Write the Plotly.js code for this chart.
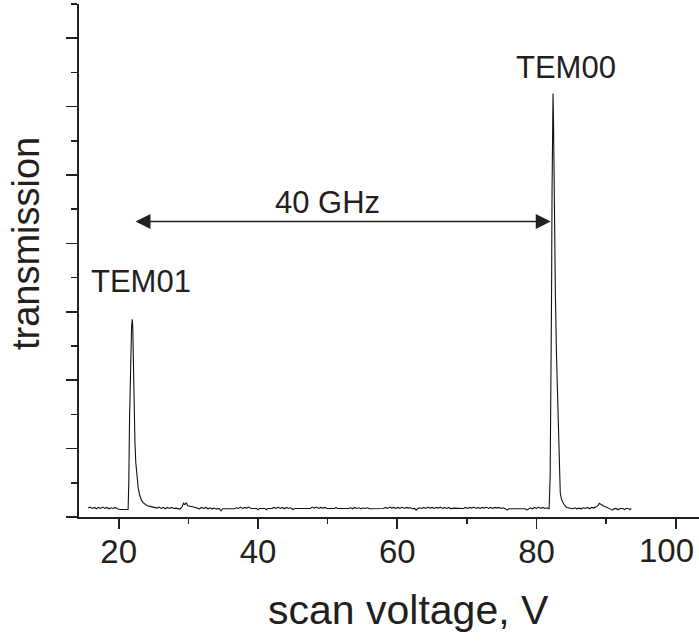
<!DOCTYPE html>
<html>
<head>
<meta charset="utf-8">
<script src="https://cdn.plot.ly/plotly-3.0.1.min.js"></script>
<style>html,body{margin:0;padding:0;background:#fff;}#chart{width:699px;height:641px;}</style>
</head>
<body>
<div id="chart"></div>
<script>
// scan voltage (V)
var voltage = [
15.6,15.9,16.2,16.5,16.8,17.1,17.4,17.7,18.0,18.3,18.6,18.9,19.2,19.5,19.8,20.2,21.35,
21.45,21.56,21.7,21.85,21.94,22.02,22.1,22.17,22.24,22.33,22.45,22.6,22.8,23.0,23.25,23.5,23.8,24.1,24.5,24.9,25.2,
25.5,25.8,26.1,26.4,26.7,27.0,27.3,27.6,27.9,28.2,28.8,
29.1,29.3,29.5,29.7,29.9,30.2,30.6,31.0,
31.3,31.6,31.9,32.2,32.5,32.8,33.1,33.4,33.7,34.0,34.4,34.7,34.9,36.6,
36.9,37.2,37.5,37.8,38.1,38.4,38.7,39.0,39.8,40.0,40.2,41.0,41.2,41.4,42.0,
42.3,42.6,42.9,43.2,43.5,43.8,44.1,44.4,44.7,45.0,45.3,47.5,
47.8,48.1,48.4,48.7,49.0,49.3,49.6,49.9,51.0,51.2,51.4,53.0,
53.3,53.6,53.9,54.2,54.5,54.8,55.1,55.4,55.7,56.0,58.0,
58.3,58.6,58.9,59.2,59.5,59.8,60.1,60.4,60.7,61.0,61.3,61.6,61.9,62.2,62.5,62.7,62.9,
63.2,63.5,63.8,64.1,64.4,64.7,65.0,65.3,65.6,65.9,66.2,66.5,66.8,67.1,67.4,67.7,68.0,69.5,
69.8,70.1,70.4,70.7,71.0,71.3,71.6,71.9,72.2,72.5,72.8,73.1,73.4,73.7,74.0,74.3,74.6,74.9,75.2,75.5,75.8,76.0,
78.4,78.6,78.8,79.1,79.4,79.7,80.0,80.3,80.6,80.9,81.2,81.5,81.7,
81.8,81.95,82.08,82.15,82.22,82.3,82.36,82.43,82.5,82.6,82.7,82.85,83.0,83.1,83.2,83.3,83.4,83.6,83.9,
84.3,84.6,84.9,85.2,85.5,85.8,86.1,86.4,86.7,87.0,87.3,87.6,87.9,88.2,88.5,88.8,89.0,89.2,89.4,89.7,
90.0,90.3,90.6,90.9,91.1,91.4,91.7,92.0,92.4,92.6,92.8,93.2,93.4,93.6
];
// transmission (arb. units)
var transmission = [
0.26,0.29,0.25,0.28,0.24,0.28,0.25,0.29,0.25,0.28,0.24,0.27,0.25,0.28,0.24,0.22,0.22,
1.0,2.9,4.6,5.55,5.78,5.55,4.7,3.7,2.9,2.2,1.6,1.17,0.85,0.65,0.5,0.42,0.36,0.33,0.31,0.29,0.28,
0.26,0.29,0.25,0.28,0.24,0.28,0.25,0.28,0.25,0.26,0.23,
0.30,0.40,0.36,0.42,0.33,0.31,0.30,0.28,
0.27,0.24,0.28,0.25,0.28,0.24,0.27,0.24,0.26,0.23,0.25,0.18,0.24,0.24,
0.27,0.25,0.29,0.25,0.28,0.26,0.29,0.25,0.25,0.21,0.25,0.25,0.21,0.25,0.25,
0.28,0.25,0.29,0.25,0.28,0.24,0.28,0.25,0.27,0.22,0.25,0.25,
0.29,0.26,0.29,0.25,0.28,0.26,0.28,0.25,0.25,0.28,0.25,0.25,
0.27,0.24,0.28,0.25,0.27,0.24,0.27,0.25,0.27,0.24,0.25,
0.28,0.25,0.29,0.26,0.28,0.25,0.28,0.25,0.29,0.25,0.28,0.26,0.27,0.24,0.25,0.20,0.24,
0.27,0.25,0.28,0.25,0.29,0.26,0.28,0.25,0.28,0.26,0.29,0.25,0.28,0.25,0.28,0.24,0.26,0.25,
0.28,0.25,0.28,0.26,0.29,0.25,0.28,0.25,0.28,0.26,0.29,0.25,0.28,0.25,0.28,0.26,0.28,0.25,0.27,0.24,0.20,0.24,
0.24,0.20,0.24,0.27,0.24,0.28,0.25,0.29,0.25,0.28,0.25,0.27,0.24,
0.24,1.2,3.6,6.5,9.5,11.8,12.38,11.6,9.5,8.0,6.5,4.8,3.6,2.5,1.7,1.1,0.7,0.5,0.38,
0.28,0.27,0.26,0.24,0.27,0.24,0.26,0.24,0.27,0.25,0.28,0.24,0.28,0.26,0.29,0.33,0.40,0.37,0.35,0.31,
0.29,0.27,0.23,0.20,0.24,0.25,0.21,0.25,0.25,0.21,0.25,0.25,0.21,0.25
];
// x ticks: the last label ("100") is drawn as a right-aligned label so it stays inside the figure
var xTickVals = [20, 40, 60, 80, 100];
var xTickText = ["20", "40", "60", "80", ""];
var lastTickLabel = "100";
var lastTickLabelRightX = 102.74;
// peak labels
var peakLabels = ["TEM01", "TEM00"];
var peakLabelX = [23.2, 84.23];
var peakLabelY = [6.89, 13.14];
// frequency-spacing arrow
var spacingText = "40 GHz";
var arrowFromX = 22.2, arrowToX = 82.03, arrowY = 8.64;
var spacingLabelX = 50.05, spacingLabelY = 9.21;

var ink = "#231f20";
var font = "Liberation Sans, Arial, sans-serif";

var trace = {
  x: voltage, y: transmission, type: "scatter", mode: "lines",
  line: {color: "#111", width: 1.1}, hoverinfo: "skip", showlegend: false
};

var annotations = [];
for (var i = 0; i < peakLabels.length; i++) {
  annotations.push({x: peakLabelX[i], y: peakLabelY[i], xref: "x", yref: "y",
    text: peakLabels[i], showarrow: false, xanchor: "center", yanchor: "middle",
    font: {family: font, size: 31, color: ink}});
}
annotations.push({x: spacingLabelX, y: spacingLabelY, xref: "x", yref: "y",
  text: spacingText, showarrow: false, xanchor: "center", yanchor: "middle",
  font: {family: font, size: 31, color: ink}});
annotations.push({x: arrowToX, y: arrowY, ax: arrowFromX, ay: arrowY,
  xref: "x", yref: "y", axref: "x", ayref: "y", text: "", showarrow: true,
  arrowhead: 2, startarrowhead: 2, arrowside: "end+start",
  arrowsize: 2.3, startarrowsize: 2.3, arrowwidth: 1.3, arrowcolor: ink,
  standoff: 0, startstandoff: 0});
annotations.push({x: lastTickLabelRightX, y: -0.0653, xref: "x", yref: "paper",
  text: lastTickLabel, showarrow: false, xanchor: "right", yanchor: "middle", borderpad: 0,
  font: {family: font, size: 33, color: ink}});
// axis titles
annotations.push({x: 0.5315, y: -0.181, xref: "paper", yref: "paper",
  text: "scan voltage, V", showarrow: false, xanchor: "center", yanchor: "middle",
  font: {family: font, size: 41, color: ink}});
annotations.push({x: -0.0855, y: 0.534, xref: "paper", yref: "paper",
  text: "transmission", showarrow: false, textangle: -90, xanchor: "center", yanchor: "middle",
  font: {family: font, size: 38, color: ink}});

var layout = {
  width: 699, height: 641,
  margin: {l: 79, r: 0, t: 4, b: 124, pad: 0},
  paper_bgcolor: "#fff", plot_bgcolor: "#fff",
  showlegend: false,
  xaxis: {
    range: [14.3, 103.32], showgrid: false, zeroline: false,
    showline: true, linecolor: ink, linewidth: 2, mirror: false,
    ticks: "outside", ticklen: 10, tickwidth: 1.6, tickcolor: ink,
    tickmode: "array", tickvals: xTickVals, ticktext: xTickText,
    ticklabelstandoff: -6,
    minor: {ticks: "outside", ticklen: 5, tickwidth: 1.6, tickcolor: ink, dtick: 10, tick0: 0, showgrid: false},
    tickfont: {family: font, size: 33, color: ink},
    fixedrange: true
  },
  yaxis: {
    range: [0, 15], showgrid: false, zeroline: false,
    showline: true, linecolor: ink, linewidth: 2,
    ticks: "outside", ticklen: 11, tickwidth: 1.6, tickcolor: ink,
    tick0: 0, dtick: 2, showticklabels: false,
    minor: {ticks: "outside", ticklen: 6, tickwidth: 1.6, tickcolor: ink, dtick: 1, tick0: 0, showgrid: false},
    fixedrange: true
  },
  annotations: annotations
};

Plotly.newPlot("chart", [trace], layout, {displayModeBar: false, staticPlot: true});
</script>
</body>
</html>
